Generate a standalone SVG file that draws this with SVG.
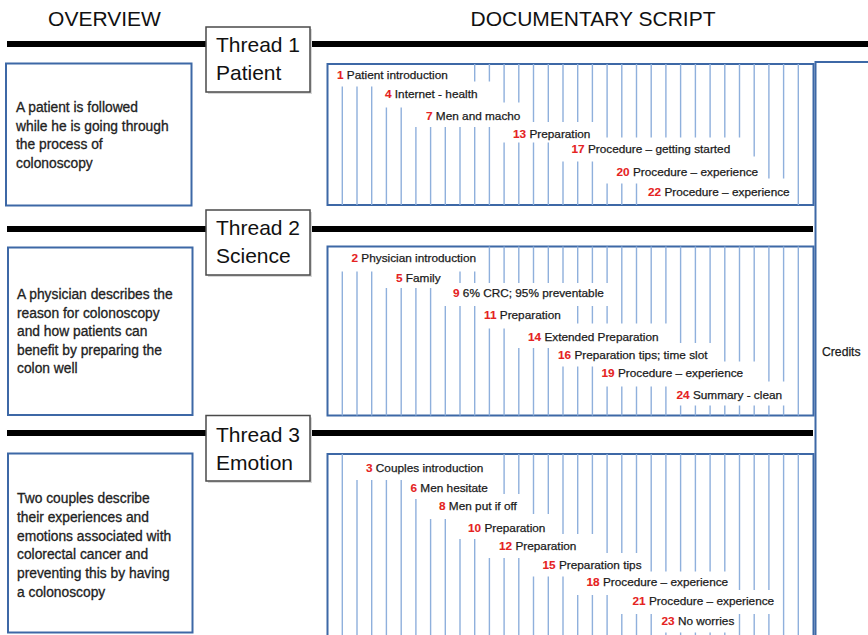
<svg xmlns="http://www.w3.org/2000/svg" width="868" height="635" viewBox="0 0 868 635">
<style>
text{font-family:"Liberation Sans",Arial,sans-serif}
.hd{font-size:21px;fill:#111}
.ov{font-size:13.8px;fill:#222;stroke:#222;stroke-width:0.3}
.sc{font-size:11.8px;fill:#1a1a1a;stroke:#1a1a1a;stroke-width:0.25}
.n{fill:#e52222;stroke:#e52222;font-weight:bold;stroke-width:0.1}
.bx{fill:#fff;stroke:#3d68a6;stroke-width:2}
.v{fill:none;stroke:#8fb0dc;stroke-width:1.4}
.bar{stroke:#000;stroke-width:6;fill:none}
.tb{fill:#fff;stroke:#4a4a4a;stroke-width:1.5}
.sh{fill:#d8d8d8}
</style>
<rect width="868" height="635" fill="#fff"/>

<g id="headers">
<text class="hd" x="104.5" y="26" text-anchor="middle">OVERVIEW</text>
<text class="hd" x="593" y="26" text-anchor="middle">DOCUMENTARY SCRIPT</text>
</g>

<g id="connectors">
<path class="bar" d="M7 44H206M310 44H868"/>
<path class="bar" d="M7 229H206M310 229H813"/>
<path class="bar" d="M7 433H206M310 433H813"/>
</g>

<g id="credits">
<rect class="bx" x="815.5" y="62" width="60" height="585"/>
<text class="sc" x="822" y="356" style="font-size:12.2px">Credits</text>
</g>

<g id="thread1">
<rect class="sh" x="208" y="29" width="104" height="65"/>
<rect class="tb" x="206" y="27" width="104" height="65"/>
<text class="hd" x="216" y="52">Thread 1</text>
<text class="hd" x="216" y="80">Patient</text>
</g>
<g id="thread2">
<rect class="sh" x="208" y="212" width="104" height="65"/>
<rect class="tb" x="206" y="210" width="104" height="65"/>
<text class="hd" x="216" y="235">Thread 2</text>
<text class="hd" x="216" y="263">Science</text>
</g>
<g id="thread3">
<rect class="sh" x="208" y="417.5" width="104" height="65.5"/>
<rect class="tb" x="206" y="415.5" width="104" height="65.5"/>
<text class="hd" x="216" y="441.5">Thread 3</text>
<text class="hd" x="216" y="470">Emotion</text>
</g>

<g id="overview1">
<rect class="bx" x="6" y="63.5" width="185.5" height="142"/>
<text class="ov" x="16" y="112">A patient is followed</text>
<text class="ov" x="16" y="131">while he is going through</text>
<text class="ov" x="16" y="149">the process of</text>
<text class="ov" x="16" y="168">colonoscopy</text>
</g>
<g id="overview2">
<rect class="bx" x="8" y="247.5" width="184.5" height="167.5"/>
<text class="ov" x="17" y="299">A physician describes the</text>
<text class="ov" x="17" y="318">reason for colonoscopy</text>
<text class="ov" x="17" y="336">and how patients can</text>
<text class="ov" x="17" y="355">benefit by preparing the</text>
<text class="ov" x="17" y="373">colon well</text>
</g>
<g id="overview3">
<rect class="bx" x="8" y="453.5" width="184.5" height="179"/>
<text class="ov" x="17" y="503">Two couples describe</text>
<text class="ov" x="17" y="522">their experiences and</text>
<text class="ov" x="17" y="541">emotions associated with</text>
<text class="ov" x="17" y="559">colorectal cancer and</text>
<text class="ov" x="17" y="578">preventing this by having</text>
<text class="ov" x="17" y="597">a colonoscopy</text>
</g>

<g id="script1">
<rect class="bx" x="327.5" y="64" width="486" height="141"/>
<path class="v" d="M342.3 86.5V205M357 86.5V205M371.7 86.5V205M386.4 107.5V205M401.2 107.5V205M415.9 127V205M430.6 127V205M445.3 127V205M460 127V205M474.7 64V81.5M474.7 127V205M489.4 64V81.5M489.4 127V205M504.1 64V102.5M504.1 142.5V205M518.8 64V102.5M518.8 142.5V205M533.5 64V122M533.5 142.5V205M548.3 64V122M548.3 142.5V205M563 64V122M563 161.5V205M577.7 64V122M577.7 161.5V205M592.4 64V122M592.4 161.5V205M607.1 64V137.5M607.1 183.5V205M621.8 64V137.5M621.8 183.5V205M636.5 64V137.5M636.5 183.5V205M651.2 64V137.5M665.9 64V137.5M680.6 64V137.5M695.4 64V137.5M710.1 64V137.5M724.8 64V137.5M739.5 64V137.5M754.2 64V156.5M768.9 64V178.5M783.6 64V178.5M798.3 64V205"/>
<text class="sc" x="337" y="79"><tspan class="n">1</tspan> Patient introduction</text>
<text class="sc" x="385" y="98"><tspan class="n">4</tspan> Internet - health</text>
<text class="sc" x="426" y="120"><tspan class="n">7</tspan> Men and macho</text>
<text class="sc" x="513" y="138"><tspan class="n">13</tspan> Preparation</text>
<text class="sc" x="571.5" y="153"><tspan class="n">17</tspan> Procedure – getting started</text>
<text class="sc" x="616.5" y="175.5"><tspan class="n">20</tspan> Procedure – experience</text>
<text class="sc" x="648" y="196"><tspan class="n">22</tspan> Procedure – experience</text>
</g>

<g id="script2">
<rect class="bx" x="327.5" y="246.5" width="486" height="169"/>
<path class="v" d="M342.3 271.5V415.5M357 271.5V415.5M371.7 271.5V415.5M386.4 288V415.5M401.2 288V415.5M415.9 288V415.5M430.6 288V415.5M445.3 306V415.5M460 271.5V283M460 306V415.5M474.7 271.5V283M474.7 306V415.5M489.4 246.5V283M489.4 328.5V415.5M504.1 246.5V283M504.1 328.5V415.5M518.8 246.5V283M518.8 348V415.5M533.5 246.5V283M533.5 348V415.5M548.3 246.5V283M548.3 348V415.5M563 246.5V283M563 366.5V415.5M577.7 246.5V283M577.7 306V323.5M577.7 366.5V415.5M592.4 246.5V283M592.4 306V323.5M592.4 366.5V415.5M607.1 246.5V283M607.1 306V323.5M607.1 386.5V415.5M621.8 246.5V323.5M621.8 386.5V415.5M636.5 246.5V323.5M636.5 386.5V415.5M651.2 246.5V323.5M651.2 386.5V415.5M665.9 246.5V323.5M665.9 386.5V415.5M680.6 246.5V343M680.6 405.5V415.5M695.4 246.5V343M695.4 405.5V415.5M710.1 246.5V343M710.1 405.5V415.5M724.8 246.5V361.5M724.8 405.5V415.5M739.5 246.5V361.5M739.5 405.5V415.5M754.2 246.5V361.5M754.2 405.5V415.5M768.9 246.5V381.5M768.9 405.5V415.5M783.6 246.5V381.5M783.6 405.5V415.5M798.3 246.5V415.5"/>
<text class="sc" x="351.5" y="262"><tspan class="n">2</tspan> Physician introduction</text>
<text class="sc" x="396" y="282"><tspan class="n">5</tspan> Family</text>
<text class="sc" x="453" y="297"><tspan class="n">9</tspan> 6% CRC; 95% preventable</text>
<text class="sc" x="484" y="319"><tspan class="n">11</tspan> Preparation</text>
<text class="sc" x="528" y="340.5"><tspan class="n">14</tspan> Extended Preparation</text>
<text class="sc" x="558" y="359"><tspan class="n">16</tspan> Preparation tips; time slot</text>
<text class="sc" x="601.5" y="377"><tspan class="n">19</tspan> Procedure – experience</text>
<text class="sc" x="676.5" y="399"><tspan class="n">24</tspan> Summary - clean</text>
</g>

<g id="script3">
<rect class="bx" x="327.5" y="454" width="486" height="190"/>
<path class="v" d="M342.3 454V640M357 480V640M371.7 480V640M386.4 480V640M401.2 480V640M415.9 499V640M430.6 519V640M445.3 519V640M460 539V640M474.7 539V640M489.4 558V640M504.1 454V494M504.1 558V640M518.8 454V494M518.8 558V640M533.5 454V514M533.5 576.5V640M548.3 454V514M548.3 576.5V640M563 454V534M563 576.5V640M577.7 454V534M577.7 595V640M592.4 454V534M592.4 595V640M607.1 454V553M607.1 595V640M621.8 454V553M621.8 614V640M636.5 454V553M636.5 614V640M651.2 454V571.5M651.2 614V640M665.9 454V571.5M665.9 632.5V640M680.6 454V571.5M680.6 632.5V640M695.4 454V571.5M695.4 632.5V640M710.1 454V571.5M710.1 632.5V640M724.8 454V571.5M724.8 632.5V640M739.5 454V590M739.5 614V640M754.2 454V590M754.2 614V640M768.9 454V590M768.9 614V640M783.6 454V640M798.3 454V640"/>
<text class="sc" x="366" y="472"><tspan class="n">3</tspan> Couples introduction</text>
<text class="sc" x="410.5" y="491.5"><tspan class="n">6</tspan> Men hesitate</text>
<text class="sc" x="439" y="510"><tspan class="n">8</tspan> Men put if off</text>
<text class="sc" x="468" y="532"><tspan class="n">10</tspan> Preparation</text>
<text class="sc" x="499" y="549.5"><tspan class="n">12</tspan> Preparation</text>
<text class="sc" x="542.5" y="569"><tspan class="n">15</tspan> Preparation tips</text>
<text class="sc" x="586.5" y="586"><tspan class="n">18</tspan> Procedure – experience</text>
<text class="sc" x="632.5" y="605"><tspan class="n">21</tspan> Procedure – experience</text>
<text class="sc" x="661.5" y="624.5"><tspan class="n">23</tspan> No worries</text>
</g>
</svg>
